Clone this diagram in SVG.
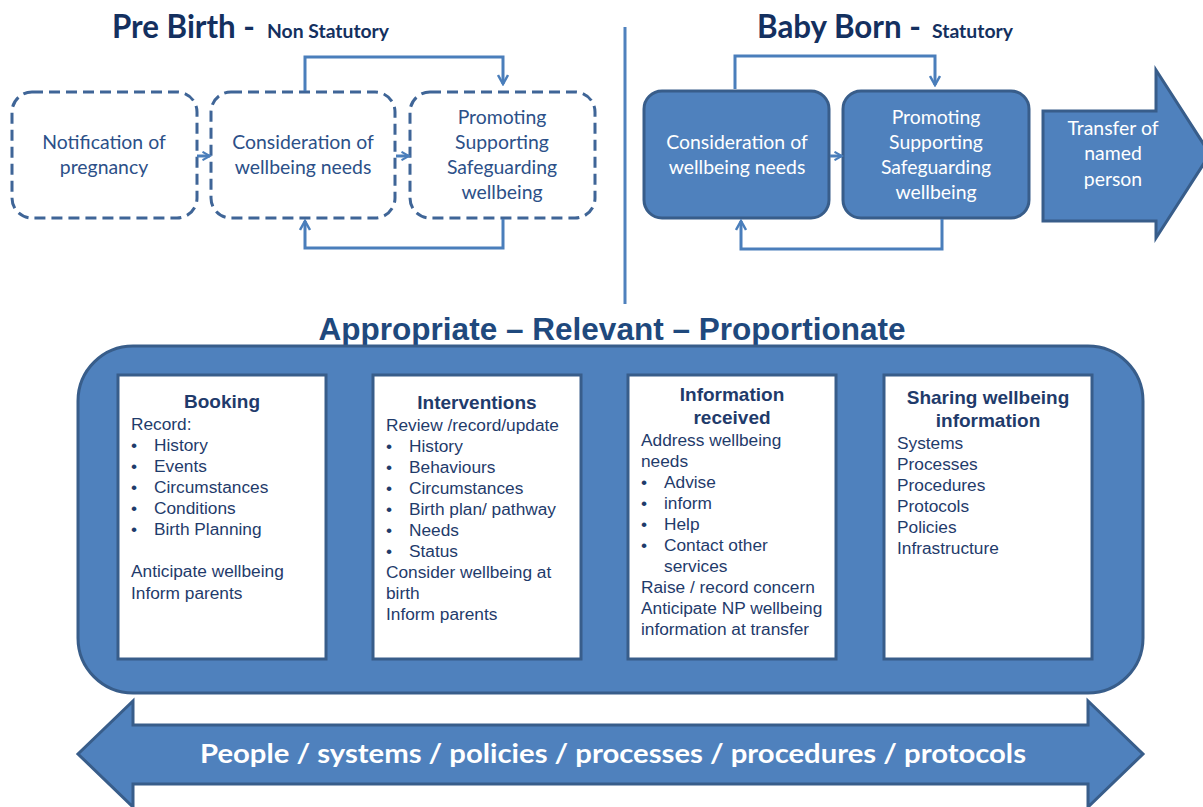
<svg xmlns="http://www.w3.org/2000/svg" width="1203" height="807" viewBox="0 0 1203 807">
<defs>
<style>
.ttl{font-family:Lato,"Open Sans",sans-serif;font-weight:bold;fill:#14305f}
.dash{fill:none;stroke:#3f6597;stroke-width:3;stroke-dasharray:11 6}
.dtxt{font-family:Lato,"Open Sans",sans-serif;font-size:19.4px;fill:#2c5088;text-anchor:middle}
.solid{fill:#4f81bd;stroke:#385d8a;stroke-width:3}
.wtxt{font-family:Lato,"Open Sans",sans-serif;font-size:19.4px;fill:#ffffff;text-anchor:middle}
.conn{fill:none;stroke:#4a7ebb;stroke-width:3}
.panel{fill:#ffffff;stroke:#385d8a;stroke-width:3}
.ph{font-family:"Liberation Sans",Arial,sans-serif;font-weight:bold;font-size:19px;fill:#1f3b6b;text-anchor:middle}
.pt{font-family:"Liberation Sans",Arial,sans-serif;font-size:17.3px;fill:#1f3b6b}
</style>
<marker id="ah" viewBox="0 0 12 12" refX="10" refY="6" markerWidth="12" markerHeight="12" markerUnits="userSpaceOnUse" orient="auto">
<path d="M1,1 L10,6 L1,11" fill="none" stroke="#4a7ebb" stroke-width="2.5"/>
</marker>
<marker id="ahs" viewBox="0 0 12 12" refX="10" refY="6" markerWidth="10" markerHeight="10" markerUnits="userSpaceOnUse" orient="auto">
<path d="M1,1 L10,6 L1,11" fill="none" stroke="#4a7ebb" stroke-width="2.5"/>
</marker>
</defs>
<rect width="1203" height="807" fill="#ffffff"/>

<g id="title-prebirth">
<text class="ttl" x="112" y="38" font-size="32" textLength="143" lengthAdjust="spacingAndGlyphs">Pre Birth -</text>
<text class="ttl" x="267" y="38" font-size="19" textLength="122" lengthAdjust="spacingAndGlyphs">Non Statutory</text>
</g>
<g id="title-babyborn">
<text class="ttl" x="757" y="38" font-size="32" textLength="164" lengthAdjust="spacingAndGlyphs">Baby Born -</text>
<text class="ttl" x="932" y="38" font-size="19" textLength="81" lengthAdjust="spacingAndGlyphs">Statutory</text>
</g>

<line x1="625" y1="27" x2="625" y2="304" stroke="#4f81bd" stroke-width="3"/>

<g id="pb-notification">
<rect class="dash" x="12" y="92" width="185" height="126" rx="20"/>
<text class="dtxt" x="104" y="149">Notification of</text>
<text class="dtxt" x="104" y="174">pregnancy</text>
</g>
<g id="pb-consideration">
<rect class="dash" x="211" y="92" width="184" height="126" rx="20"/>
<text class="dtxt" x="303" y="149">Consideration of</text>
<text class="dtxt" x="303" y="174">wellbeing needs</text>
</g>
<g id="pb-promoting">
<rect class="dash" x="410" y="92" width="185" height="126" rx="20"/>
<text class="dtxt" x="502" y="124">Promoting</text>
<text class="dtxt" x="502" y="149">Supporting</text>
<text class="dtxt" x="502" y="174">Safeguarding</text>
<text class="dtxt" x="502" y="199">wellbeing</text>
</g>

<g id="bb-consideration">
<rect class="solid" x="644" y="91" width="185" height="127" rx="18"/>
<text class="wtxt" x="737" y="149">Consideration of</text>
<text class="wtxt" x="737" y="174">wellbeing needs</text>
</g>
<g id="bb-promoting">
<rect class="solid" x="843" y="91" width="186" height="127" rx="18"/>
<text class="wtxt" x="936" y="124">Promoting</text>
<text class="wtxt" x="936" y="149">Supporting</text>
<text class="wtxt" x="936" y="174">Safeguarding</text>
<text class="wtxt" x="936" y="199">wellbeing</text>
</g>

<g id="transfer">
<path class="solid" d="M1043,111 L1156,111 L1156,70 L1210,154 L1156,238 L1156,221 L1043,221 Z"/>
<text class="wtxt" x="1113" y="135">Transfer of</text>
<text class="wtxt" x="1113" y="160">named</text>
<text class="wtxt" x="1113" y="186">person</text>
</g>

<g id="connectors">
<line class="conn" x1="197" y1="156" x2="210" y2="156" stroke-width="2" marker-end="url(#ahs)"/>
<line class="conn" x1="396" y1="156" x2="409" y2="156" stroke-width="2" marker-end="url(#ahs)"/>
<path class="conn" d="M305,91 L305,57 L503,57 L503,84" marker-end="url(#ah)"/>
<path class="conn" d="M503,219 L503,248 L305,248 L305,221" marker-end="url(#ah)"/>
<line class="conn" x1="830" y1="156" x2="842" y2="156" stroke-width="2" marker-end="url(#ahs)"/>
<path class="conn" d="M735,89 L735,56 L935,56 L935,85" marker-end="url(#ah)"/>
<path class="conn" d="M942,219 L942,249 L741,249 L741,221" marker-end="url(#ah)"/>
</g>

<g id="heading-arp">
<text x="612" y="340" font-family="'Liberation Sans',Arial,sans-serif" font-weight="bold" font-size="31.5" fill="#1f497d" text-anchor="middle" textLength="587" lengthAdjust="spacingAndGlyphs">Appropriate – Relevant – Proportionate</text>
</g>

<g id="container">
<rect class="solid" x="78" y="346" width="1065" height="347" rx="55"/>
</g>

<g id="panel-booking">
<rect class="panel" x="118" y="375" width="208" height="284"/>
<text class="ph" x="222" y="408">Booking</text>
<text class="pt" x="131" y="430">Record:</text>
<text class="pt" x="131" y="451">•<tspan x="154">History</tspan></text>
<text class="pt" x="131" y="472">•<tspan x="154">Events</tspan></text>
<text class="pt" x="131" y="493">•<tspan x="154">Circumstances</tspan></text>
<text class="pt" x="131" y="514">•<tspan x="154">Conditions</tspan></text>
<text class="pt" x="131" y="535">•<tspan x="154">Birth Planning</tspan></text>
<text class="pt" x="131" y="577">Anticipate wellbeing</text>
<text class="pt" x="131" y="599">Inform parents</text>
</g>

<g id="panel-interventions">
<rect class="panel" x="373" y="375" width="208" height="284"/>
<text class="ph" x="477" y="409">Interventions</text>
<text class="pt" x="386" y="431">Review /record/update</text>
<text class="pt" x="386" y="452">•<tspan x="409">History</tspan></text>
<text class="pt" x="386" y="473">•<tspan x="409">Behaviours</tspan></text>
<text class="pt" x="386" y="494">•<tspan x="409">Circumstances</tspan></text>
<text class="pt" x="386" y="515">•<tspan x="409">Birth plan/ pathway</tspan></text>
<text class="pt" x="386" y="536">•<tspan x="409">Needs</tspan></text>
<text class="pt" x="386" y="557">•<tspan x="409">Status</tspan></text>
<text class="pt" x="386" y="578">Consider wellbeing at</text>
<text class="pt" x="386" y="599">birth</text>
<text class="pt" x="386" y="620">Inform parents</text>
</g>

<g id="panel-information">
<rect class="panel" x="628" y="375" width="208" height="284"/>
<text class="ph" x="732" y="401">Information</text>
<text class="ph" x="732" y="424">received</text>
<text class="pt" x="641" y="446">Address wellbeing</text>
<text class="pt" x="641" y="467">needs</text>
<text class="pt" x="641" y="488">•<tspan x="664">Advise</tspan></text>
<text class="pt" x="641" y="509">•<tspan x="664">inform</tspan></text>
<text class="pt" x="641" y="530">•<tspan x="664">Help</tspan></text>
<text class="pt" x="641" y="551">•<tspan x="664">Contact other</tspan></text>
<text class="pt" x="664" y="572">services</text>
<text class="pt" x="641" y="593">Raise / record concern</text>
<text class="pt" x="641" y="614">Anticipate NP wellbeing</text>
<text class="pt" x="641" y="635">information at transfer</text>
</g>

<g id="panel-sharing">
<rect class="panel" x="884" y="375" width="208" height="284"/>
<text class="ph" x="988" y="404">Sharing wellbeing</text>
<text class="ph" x="988" y="427">information</text>
<text class="pt" x="897" y="449">Systems</text>
<text class="pt" x="897" y="470">Processes</text>
<text class="pt" x="897" y="491">Procedures</text>
<text class="pt" x="897" y="512">Protocols</text>
<text class="pt" x="897" y="533">Policies</text>
<text class="pt" x="897" y="554">Infrastructure</text>
</g>

<g id="people-arrow">
<path class="solid" d="M133,701 L133,725 L1088,725 L1088,701 L1143,754 L1088,807 L1088,784 L133,784 L133,807 L78,754 Z"/>
<text x="613" y="763" font-family="Lato,'Open Sans',sans-serif" font-weight="bold" font-size="27" fill="#ffffff" text-anchor="middle" textLength="826" lengthAdjust="spacingAndGlyphs">People / systems / policies / processes / procedures / protocols</text>
</g>
</svg>
